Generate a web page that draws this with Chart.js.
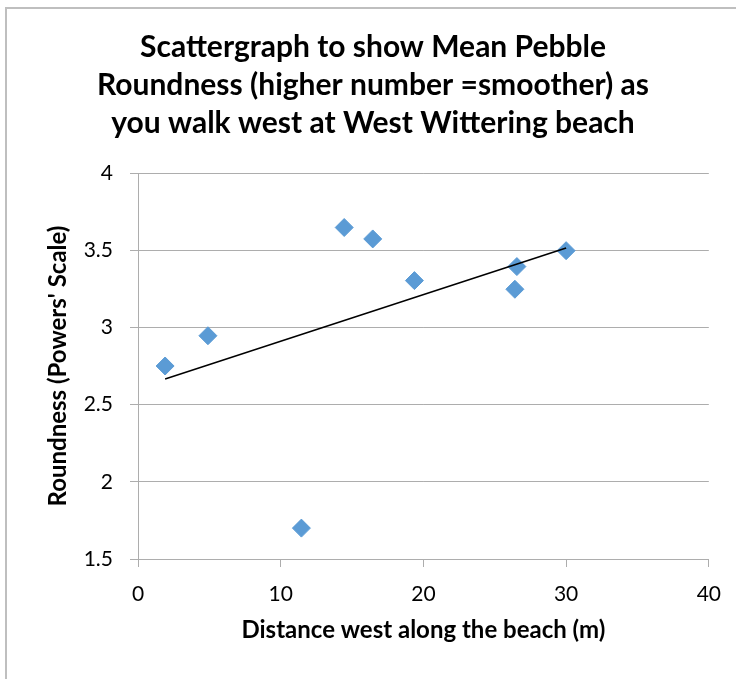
<!DOCTYPE html>
<html>
<head>
<meta charset="utf-8">
<script src="https://cdn.jsdelivr.net/npm/chart.js@4"></script>
<style>
  html, body { margin: 0; padding: 0; background: #ffffff; overflow: hidden; }
  #wrap { position: relative; width: 736px; height: 679px; }
  #frame { position: absolute; left: 5px; top: 7px; width: 800px; height: 800px; border: 2px solid #bfbfbf; box-sizing: border-box; }
  canvas { position: absolute; left: 0; top: 0; }
</style>
</head>
<body>
<div id="wrap">
  <div id="frame"></div>
  <canvas id="c" width="736" height="679"></canvas>
</div>
<script>
// Data
const distanceWest = [1.9, 4.9, 11.45, 14.45, 16.45, 19.37, 26.55, 26.41, 30.0];
const roundness    = [2.75, 2.946, 1.70, 3.647, 3.573, 3.303, 3.394, 3.247, 3.497];
const trendX = [1.9, 30.0];
const trendY = [2.666, 3.514];
const xTickValues = [0, 10, 20, 30, 40];
const yTickValues = [1.5, 2, 2.5, 3, 3.5, 4];
const titleLines = ['Scattergraph to show Mean Pebble', 'Roundness (higher number =smoother) as', 'you walk west at West Wittering beach'];
const xTitle = 'Distance west along the beach (m)';
const yTitle = "Roundness (Powers' Scale)";

const points = distanceWest.map((x, i) => ({ x: x, y: roundness[i] }));
const trend = trendX.map((x, i) => ({ x: x, y: trendY[i] }));

const gridColor = '#adadad';
const FONT = 'Lato, Carlito, Calibri, "Open Sans", sans-serif';

new Chart(document.getElementById('c'), {
  type: 'scatter',
  data: {
    datasets: [
      {
        label: 'Roundness',
        data: points,
        pointStyle: 'rectRot',
        pointRadius: 9,
        pointHoverRadius: 9,
        backgroundColor: '#5b9bd5',
        borderColor: '#5b9bd5',
        borderWidth: 1,
        order: 2
      },
      {
        label: 'Trend',
        type: 'line',
        data: trend,
        showLine: true,
        borderColor: '#000000',
        borderWidth: 1.5,
        pointRadius: 0,
        fill: false,
        order: 1
      }
    ]
  },
  options: {
    responsive: false,
    animation: false,
    devicePixelRatio: 1,
    layout: { padding: { top: 0, left: 36, right: 26, bottom: 0 } },
    plugins: {
      legend: { display: false },
      tooltip: { enabled: false },
      title: {
        display: true,
        text: titleLines,
        color: '#000000',
        font: { family: FONT, size: 30, weight: 'bold', lineHeight: '38px' },
        padding: { top: 28, bottom: 31 }
      }
    },
    scales: {
      x: {
        type: 'linear',
        min: 0,
        max: 40,
        afterBuildTicks: (s) => { s.ticks = xTickValues.map(v => ({ value: v })); },
        afterFit: (s) => { s.height = 120; },
        ticks: { color: '#000000', font: { family: FONT, size: 21 }, padding: 15, maxRotation: 0,
                 callback: (v) => String(v) },
        grid: { drawOnChartArea: false, drawTicks: true, tickLength: 8, color: gridColor, lineWidth: 1 },
        border: { display: true, color: gridColor, width: 1 },
        title: {
          display: true,
          text: xTitle,
          color: '#000000',
          font: { family: FONT, size: 24, weight: 'bold' },
          padding: { top: 0, bottom: 34 }
        }
      },
      y: {
        type: 'linear',
        min: 1.5,
        max: 4,
        afterBuildTicks: (s) => { s.ticks = yTickValues.map(v => ({ value: v })); },
        afterFit: (s) => { s.width = 102; },
        ticks: { color: '#000000', font: { family: FONT, size: 21 }, padding: 17,
                 callback: (v) => String(v) },
        grid: { drawOnChartArea: true, drawTicks: true, tickLength: 8, color: gridColor, lineWidth: 1 },
        border: { display: true, color: gridColor, width: 1 },
        title: {
          display: true,
          text: yTitle,
          color: '#000000',
          font: { family: FONT, size: 24, weight: 'bold' },
          padding: { top: 8, bottom: 0 }
        }
      }
    }
  }
});
</script>
</body>
</html>
